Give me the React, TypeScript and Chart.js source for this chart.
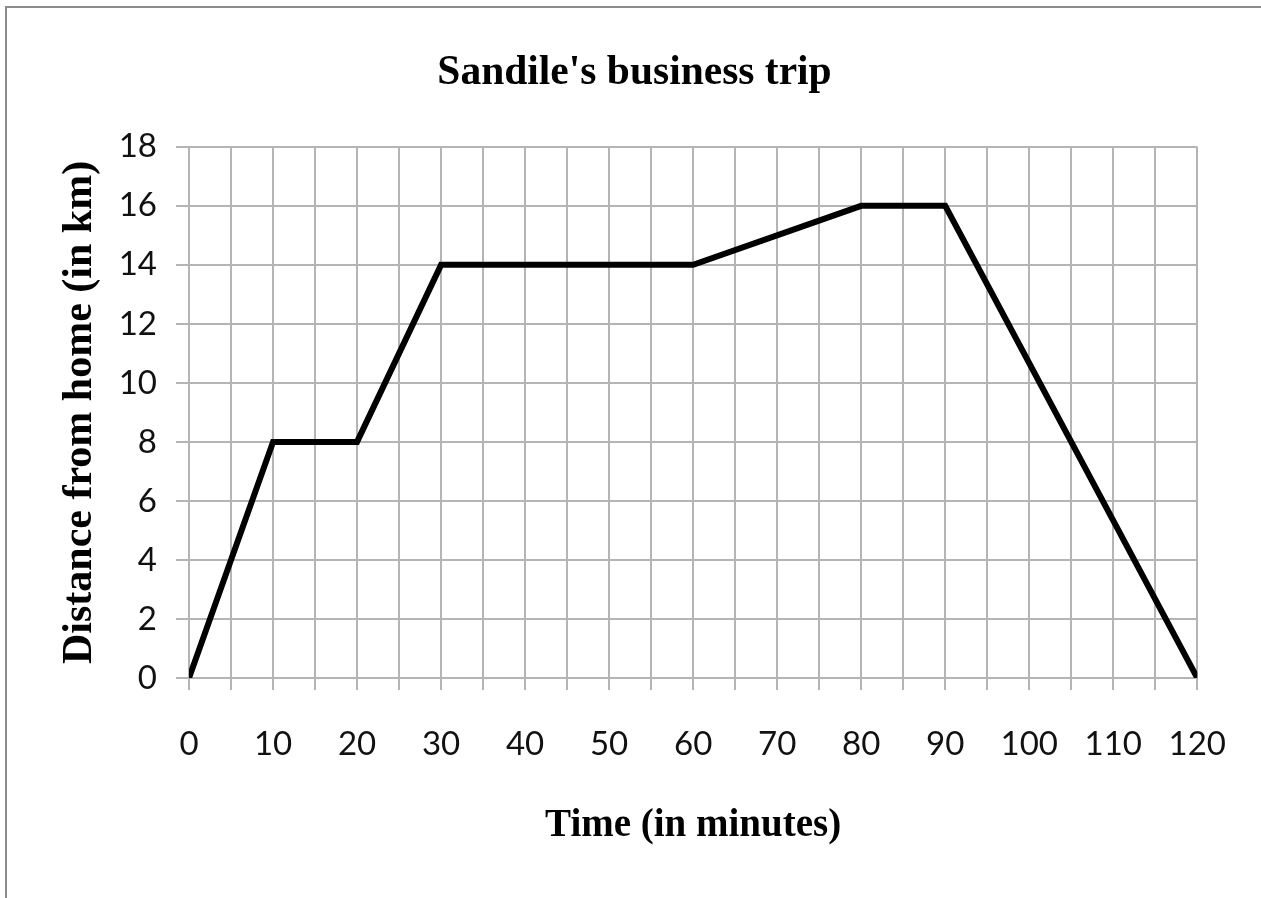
import React, { useEffect, useRef } from "react";
import { Chart, registerables } from "chart.js";

Chart.register(...registerables);

const times = [0, 10, 20, 30, 60, 80, 90, 120];
const distances = [0, 8, 8, 14, 14, 16, 16, 0];
const chartTitle = "Sandile's business trip";
const xTitle = "Time (in minutes)";
const yTitle = "Distance from home (in km)";

const W = 1261;
const H = 898;
const LEFT_PAD = 66;
const tickFont = { family: '"Lato", "Open Sans", sans-serif', size: 33 };
const gridColor = "#b4b4b4";

export default function App() {
  const ref = useRef<HTMLCanvasElement | null>(null);
  useEffect(() => {
    if (!ref.current) return;
    const chart = new Chart(ref.current, {
      type: "line",
      data: {
        datasets: [
          {
            label: "Distance",
            data: times.map((t, i) => ({ x: t, y: distances[i] })),
            borderColor: "#000",
            backgroundColor: "#000",
            borderWidth: 6,
            pointRadius: 0,
            tension: 0,
            borderJoinStyle: "miter",
            borderCapStyle: "butt",
          },
        ],
      },
      options: {
        responsive: false,
        animation: false,
        layout: { padding: { left: LEFT_PAD, right: 58, top: 0, bottom: 0 } },
        plugins: {
          legend: { display: false },
          tooltip: { enabled: false },
          title: {
            display: true,
            text: chartTitle,
            color: "#000",
            font: { family: '"Liberation Serif", serif', size: 41.5, weight: "bold", lineHeight: 1.2 },
            padding: { top: 48, bottom: 49 },
          },
        },
        scales: {
          x: {
            type: "linear",
            min: 0,
            max: 120,
            afterFit: (s: any) => {
              s.height = H - 678;
            },
            ticks: {
              stepSize: 5,
              autoSkip: false,
              maxRotation: 0,
              color: "#111",
              font: tickFont,
              padding: 35,
              callback: (v: any) => (Number(v) % 10 === 0 ? String(v) : ""),
            },
            grid: { color: gridColor, lineWidth: 2, tickLength: 12 },
            border: { color: gridColor, width: 2 },
            title: {
              display: true,
              text: xTitle,
              color: "#000",
              font: { family: '"Liberation Serif", serif', size: 39, weight: "bold", lineHeight: 1.2 },
              padding: { top: 0, bottom: 49 },
            },
          },
          y: {
            min: 0,
            max: 18,
            afterFit: (s: any) => {
              s.width = 189 - LEFT_PAD;
            },
            ticks: {
              stepSize: 2,
              color: "#111",
              font: tickFont,
              padding: 19,
            },
            grid: { color: gridColor, lineWidth: 2, tickLength: 13 },
            border: { color: gridColor, width: 2 },
            title: {
              display: true,
              text: yTitle,
              color: "#000",
              font: { family: '"Liberation Serif", serif', size: 42, weight: "bold", lineHeight: 1.0 },
              padding: { top: -7, bottom: 0 },
            },
          },
        },
      },
    } as any);
    return () => chart.destroy();
  }, []);

  return (
    <div style={{ position: "absolute", left: 0, top: 0, width: W, height: H, background: "#fff", overflow: "hidden" }}>
      <div
        style={{
          position: "absolute",
          left: 5,
          top: 6,
          width: W,
          height: H,
          borderLeft: "2px solid #8c8c8c",
          borderTop: "2px solid #8c8c8c",
        }}
      />
      <canvas ref={ref} width={W} height={H} style={{ position: "absolute", left: 0, top: 0, width: W, height: H }} />
    </div>
  );
}
